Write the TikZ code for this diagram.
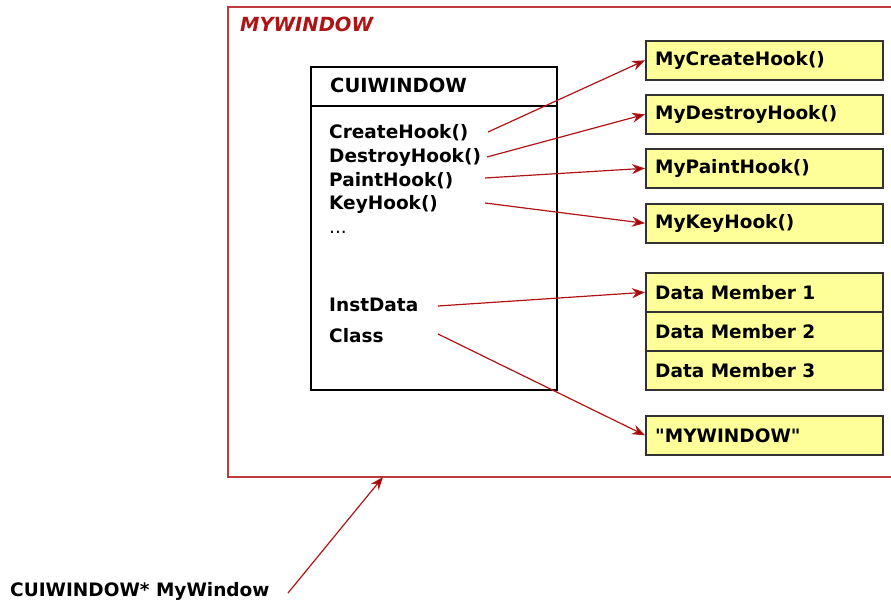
\documentclass[tikz,border=0pt]{standalone}
\usepackage{fontspec}
\setmainfont{DejaVu Sans}
\newfontfamily\rawfont[Ligatures=TeXOff]{DejaVu Sans}
\usetikzlibrary{arrows.meta}
\definecolor{frame}{RGB}{190,60,60}
\definecolor{link}{RGB}{175,20,20}
\definecolor{tip}{RGB}{150,0,0}
\definecolor{boxfill}{RGB}{255,255,153}
\definecolor{boxline}{RGB}{50,50,50}
\tikzset{
  ybox/.style={draw=boxline, line width=1.6pt, fill=boxfill, minimum width=237pt, minimum height=39pt, inner sep=0pt},
  ytext/.style={anchor=west, font=\fontsize{18.5}{18.5}\selectfont\bfseries, inner sep=0pt},
  item/.style={anchor=base west, font=\fontsize{18.5}{18.5}\selectfont\bfseries, inner sep=0pt},
  link/.style={draw=link, line width=1.2pt, -{Stealth[length=13pt,width=10pt,fill=tip]}},
}
\begin{document}
\begin{tikzpicture}[x=1pt,y=-1pt]
\useasboundingbox (0,0) rectangle (891,601);
% outer MYWINDOW frame
\draw[frame, line width=1.5pt] (228,7) rectangle (900,477);
\node[anchor=base west, inner sep=0pt, text=link, font=\fontsize{19.5}{19.5}\selectfont\bfseries\itshape] (mwlabel) at (240,32) {MYWINDOW};
% CUIWINDOW box
\draw[black, line width=1.3pt] (311,67) rectangle (557,390);
\draw[black, line width=1.3pt] (311,106) -- (557,106);
\node[item, font=\fontsize{19.5}{19.5}\selectfont\bfseries] (title) at (330,93) {CUIWINDOW};
\node[item] (ch) at (329,139) {CreateHook()};
\node[item] (dh) at (329,163) {DestroyHook()};
\node[item] (ph) at (329,187) {PaintHook()};
\node[item] (kh) at (329,210) {KeyHook()};
\node[item, font=\fontsize{18.5}{18.5}\selectfont] (dots) at (329,234) {...};
\node[item] (inst) at (329,312) {InstData};
\node[item] (cls) at (329,343) {Class};
% yellow boxes
\node[ybox, anchor=north west] (b1) at (645,40) {};
\node[ytext] at ([xshift=10pt]b1.west) {MyCreateHook()};
\node[ybox, anchor=north west] (b2) at (645,94) {};
\node[ytext] at ([xshift=10pt]b2.west) {MyDestroyHook()};
\node[ybox, anchor=north west] (b3) at (645,148) {};
\node[ytext] at ([xshift=10pt]b3.west) {MyPaintHook()};
\node[ybox, anchor=north west] (b4) at (645,203) {};
\node[ytext] at ([xshift=10pt]b4.west) {MyKeyHook()};
\node[ybox, anchor=north west] (d1) at (645,272) {};
\node[ytext] at ([xshift=10pt]d1.west) {Data Member 1};
\node[ybox, anchor=north west] (d2) at (645,311) {};
\node[ytext] at ([xshift=10pt]d2.west) {Data Member 2};
\node[ybox, anchor=north west] (d3) at (645,350) {};
\node[ytext] at ([xshift=10pt]d3.west) {Data Member 3};
\node[ybox, anchor=north west] (cn) at (645,415) {};
\node[ytext] at ([xshift=10pt]cn.west) {{\rawfont\bfseries "MYWINDOW"}};
% bottom label
\node[item] (ptr) at (10,596) {CUIWINDOW* MyWindow};
% connector start points
\coordinate (s1) at (488,132);
\coordinate (s2) at (487,157);
\coordinate (s3) at (485,178);
\coordinate (s4) at (485,203);
\coordinate (s5) at (438,306);
\coordinate (s6) at (438,334);
\coordinate (s7) at (288,593);
\coordinate (t7) at (383,477);
\draw[link] (s1) -- (b1.west);
\draw[link] (s2) -- (b2.west);
\draw[link] (s3) -- (b3.west);
\draw[link] (s4) -- (b4.west);
\draw[link] (s5) -- (d1.west);
\draw[link] (s6) -- (cn.west);
\draw[link] (s7) -- (t7);
\end{tikzpicture}
\end{document}
